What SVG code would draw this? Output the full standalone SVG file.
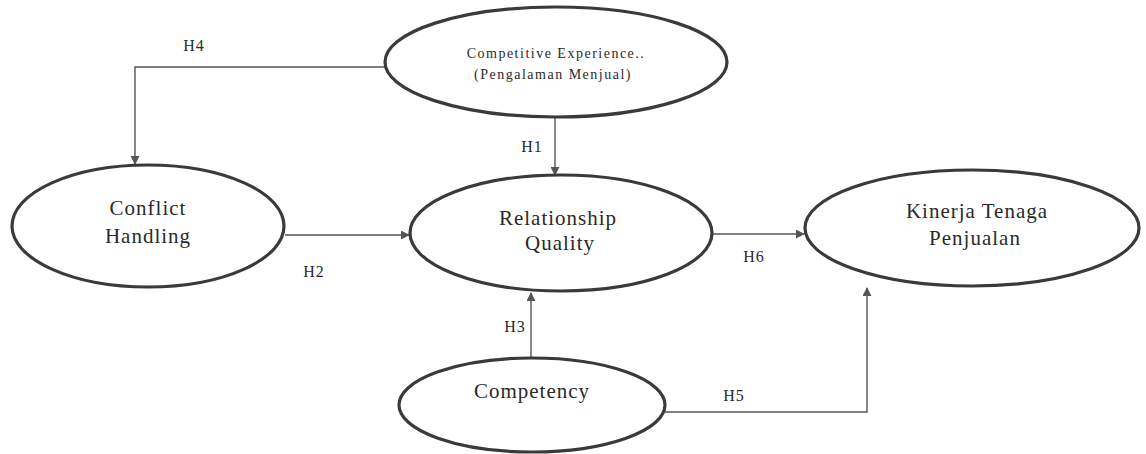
<svg xmlns="http://www.w3.org/2000/svg" width="1146" height="454" viewBox="0 0 1146 454">
<style>
.node{fill:#fff;stroke:#3a3a3a;stroke-width:3.2}
.lbl{font-family:"Liberation Serif","DejaVu Serif",serif;font-size:21px;letter-spacing:1px;fill:#2a2a2a;text-anchor:middle}
.sm{font-family:"Liberation Serif","DejaVu Serif",serif;font-size:14px;letter-spacing:1.5px;fill:#2a2a2a;text-anchor:middle}
.h{font-family:"Liberation Serif","DejaVu Serif",serif;font-size:16px;letter-spacing:1px;fill:#2a2a2a;text-anchor:middle}
.edge{fill:none;stroke:#555;stroke-width:1.4}
</style>
<defs>
<marker id="arr" viewBox="0 0 10 10" refX="9" refY="5" markerWidth="9" markerHeight="9" markerUnits="userSpaceOnUse" orient="auto">
<path d="M0,0 L10,5 L0,10 Z" fill="#555"/>
</marker>
</defs>
<rect width="1146" height="454" fill="#fff"/>
<g id="connectors">
<path class="edge" d="M388,67 L135,67 L135,164" marker-end="url(#arr)"/>
<path class="edge" d="M555,117 L555,175" marker-end="url(#arr)"/>
<path class="edge" d="M285,235 L409,235" marker-end="url(#arr)"/>
<path class="edge" d="M713,234 L804,234" marker-end="url(#arr)"/>
<path class="edge" d="M531,358 L531,293" marker-end="url(#arr)"/>
<path class="edge" d="M665,412 L867,412 L867,288" marker-end="url(#arr)"/>
<text class="h" x="194" y="51">H4</text>
<text class="h" x="532" y="152">H1</text>
<text class="h" x="314" y="277">H2</text>
<text class="h" x="754" y="262">H6</text>
<text class="h" x="515" y="332">H3</text>
<text class="h" x="734" y="401">H5</text>
</g>
<g id="competitive-experience">
<ellipse class="node" cx="556" cy="62" rx="171" ry="55"/>
<text class="sm" x="556" y="58">Competitive Experience..</text>
<text class="sm" x="553" y="79">(Pengalaman Menjual)</text>
</g>
<g id="conflict-handling">
<ellipse class="node" cx="148" cy="226" rx="136" ry="61"/>
<text class="lbl" x="148" y="215">Conflict</text>
<text class="lbl" x="148" y="243">Handling</text>
</g>
<g id="relationship-quality">
<ellipse class="node" cx="561" cy="233" rx="151" ry="58"/>
<text class="lbl" x="558" y="225">Relationship</text>
<text class="lbl" x="560" y="250">Quality</text>
</g>
<g id="kinerja">
<ellipse class="node" cx="972" cy="228" rx="167" ry="58"/>
<text class="lbl" x="977" y="218">Kinerja Tenaga</text>
<text class="lbl" x="975" y="245">Penjualan</text>
</g>
<g id="competency">
<ellipse class="node" cx="532" cy="405" rx="133" ry="47"/>
<text class="lbl" x="532" y="398">Competency</text>
</g>
</svg>
